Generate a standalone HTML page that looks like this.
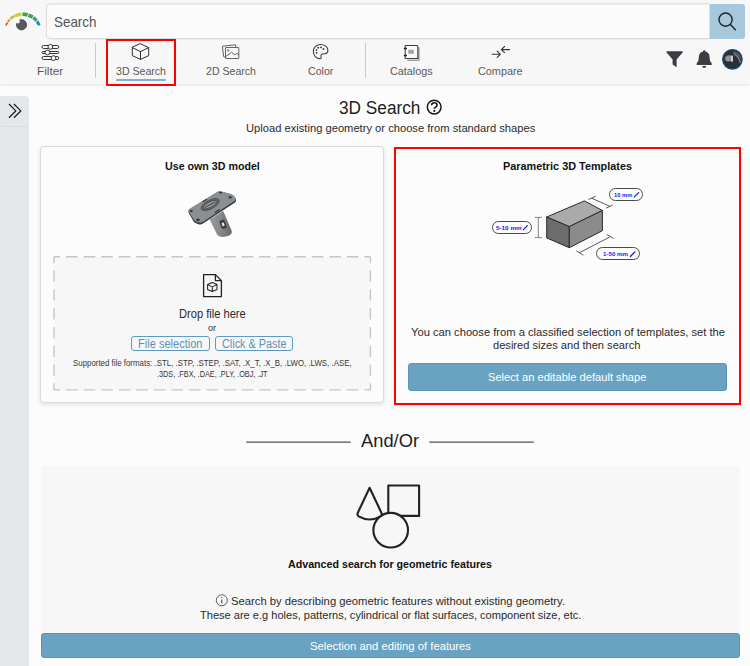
<!DOCTYPE html>
<html><head><meta charset="utf-8"><title>3D Search</title>
<style>
*{box-sizing:border-box;margin:0;padding:0}
html,body{width:750px;height:666px;overflow:hidden}
body{position:relative;background:#fcfcfc;font-family:"Liberation Sans",sans-serif}
.abs,.t{position:absolute}
.t{white-space:pre;transform-origin:0 0}
#topbar{left:0;top:0;width:750px;height:83.6px;background:#f7f7f7;box-shadow:0 1px 2.5px rgba(0,0,0,.11)}
#searchbtn{left:709px;top:4px;width:36.3px;height:34.6px;background:#a7c8dc;border-radius:0 3px 3px 0}
.vsep{width:1px;background:#c9c9c9;top:43px;height:35px}
#sel{left:106px;top:39px;width:70px;height:47px;border:2px solid #f00}
#uline{left:115.5px;top:78.6px;width:50px;height:2.8px;border-radius:2px;background:#7fb1d3}
#side{left:0;top:96px;width:28.5px;height:570px;background:#e5e8eb;border-radius:0 4px 0 0}
#sideline{left:1px;top:126px;width:26.5px;height:1px;background:#d9dcdf}
#card1{left:40px;top:146px;width:344px;height:257px;background:#fcfcfc;border:1px solid #dcdcdc;border-radius:4px;box-shadow:0 2px 4px rgba(0,0,0,.11)}
#dropz{left:54px;top:256.7px;width:316.4px;height:133.2px;background:#f7f7f7;border-radius:3px}
#card2{left:394px;top:147px;width:347px;height:258px;border:2px solid #f00;background:#fcfcfc;box-shadow:0 2px 3px rgba(0,0,0,.07)}
.obtn{height:15px;border:1px solid #5f9cc2;border-radius:3px}
.bbtn{background:#6aa3c2;border:1px solid #5c95b5;border-radius:3px}
.hline{height:1.3px;background:#555}
#panel{left:41px;top:466px;width:699px;height:191px;background:#f7f7f7}
.pill{height:12.7px;border:1px solid #4a4a4a;border-radius:6.4px;background:#fdfdfd}

</style></head>
<body>
<div class="abs" id="topbar"></div>
<div class="abs" id="searchbtn"></div>
<div class="abs vsep" style="left:95px"></div>
<div class="abs vsep" style="left:365px"></div>
<div class="abs" id="sel"></div>
<div class="abs" id="uline"></div>
<div class="abs" id="side"></div>
<div class="abs" id="sideline"></div>
<div class="abs" id="card1"></div>
<div class="abs" id="dropz"></div>
<div class="abs" id="card2"></div>
<div class="abs obtn" style="left:131px;top:336px;width:78.5px"></div>
<div class="abs obtn" style="left:215.2px;top:336px;width:78px"></div>
<div class="abs bbtn" style="left:408px;top:363.3px;width:319px;height:27.3px"></div>
<div class="abs" id="panel"></div>
<div class="abs bbtn" style="left:41px;top:633px;width:699px;height:24.5px"></div>
<div class="abs pill" style="left:609px;top:188.2px;width:33.7px"></div>
<div class="abs pill" style="left:491.9px;top:221.2px;width:40px"></div>
<div class="abs pill" style="left:596.2px;top:247.2px;width:43.5px"></div>
<svg class="abs" id="gfx" style="left:0;top:0" width="750" height="666" viewBox="0 0 750 666" fill="none">
<!-- search box -->
<path d="M709.5 3.9H50.4Q46.4 3.9 46.4 7.9V34.5Q46.4 38.5 50.4 38.5H709.5Z" fill="#fbfbfb"/>
<path d="M709.5 3.9H50.4Q46.4 3.9 46.4 7.9V34.5Q46.4 38.5 50.4 38.5H709.5" stroke="#dedede" stroke-width="1.1"/>
<path d="M50 39.3H709.5" stroke="#000" stroke-opacity="0.05" stroke-width="1"/>
<!-- logo -->
<path d="M5.31 25.25L5.49 24.74L5.67 24.23L5.88 23.73L6.10 23.24L6.33 22.75L6.58 22.27L8.13 23.09L7.85 23.50L7.58 23.92L7.33 24.35L7.09 24.79L6.86 25.23L6.64 25.68Z" fill="#e63a1e"/>
<path d="M7.06 21.42L7.34 20.96L7.64 20.51L7.95 20.07L8.28 19.63L8.61 19.21L8.96 18.80L10.64 20.25L10.28 20.58L9.94 20.92L9.60 21.27L9.28 21.63L8.96 22.00L8.65 22.38Z" fill="#ef8a27"/>
<path d="M9.62 18.08L10.20 17.51L10.80 16.96L11.42 16.44L12.07 15.95L12.73 15.49L13.42 15.06L14.89 17.50L14.26 17.80L13.64 18.12L13.03 18.47L12.44 18.85L11.86 19.26L11.29 19.69Z" fill="#b9c22b"/>
<path d="M13.98 14.73L15.09 14.17L16.23 13.67L17.41 13.26L18.61 12.93L19.82 12.67L21.06 12.50L21.44 16.18L20.44 16.23L19.43 16.30L18.41 16.44L17.40 16.65L16.39 16.94L15.40 17.29Z" fill="#cbd12f"/>
<path d="M22.35 12.41L23.32 12.40L24.30 12.45L25.27 12.54L26.23 12.68L27.18 12.88L28.13 13.12L27.11 16.68L26.35 16.48L25.59 16.33L24.82 16.21L24.04 16.14L23.26 16.10L22.48 16.11Z" fill="#43a03e"/>
<path d="M29.06 13.41L29.87 13.71L30.66 14.05L31.44 14.43L32.21 14.84L32.95 15.28L33.67 15.76L31.62 18.69L31.01 18.35L30.38 18.04L29.76 17.72L29.14 17.42L28.50 17.15L27.85 16.91Z" fill="#3f9c62"/>
<path d="M34.32 16.24L34.98 16.77L35.61 17.32L36.21 17.91L36.79 18.51L37.33 19.15L37.85 19.81L35.30 21.73L34.83 21.22L34.34 20.73L33.83 20.27L33.29 19.83L32.75 19.42L32.18 19.04Z" fill="#3fa078"/>
<path d="M38.33 20.46L38.79 21.17L39.22 21.89L39.61 22.63L39.97 23.39L40.30 24.16L40.59 24.94L37.92 25.86L37.62 25.22L37.30 24.58L36.95 23.97L36.57 23.38L36.17 22.80L35.74 22.25Z" fill="#2f83bd"/>
<circle cx="21.5" cy="24.8" r="5.1" fill="#565a5e" stroke="#3d4044" stroke-width="0.8"/>
<circle cx="17.6" cy="21.3" r="2.2" fill="#f7f7f7"/>
<!-- search magnifier -->
<g stroke="#1f2326" stroke-width="1.4" stroke-linecap="round"><circle cx="725.6" cy="19.6" r="6.6"/><path d="M730.4 24.6L735.4 29.8"/></g>
<!-- filter sliders icon -->
<g stroke="#33373a" stroke-width="1" fill="#f7f7f7">
<rect x="42" y="45.5" width="16.8" height="3" rx="1.5"/><circle cx="50.4" cy="46.9" r="2.4"/>
<rect x="42" y="51.5" width="16.8" height="2" rx="1"/><circle cx="47.4" cy="52.5" r="2.4"/>
<rect x="42" y="56.5" width="16.8" height="3" rx="1.5"/><circle cx="53.5" cy="58.1" r="2.4"/>
</g>
<!-- cube icon -->
<g stroke="#2c3033" stroke-width="1" stroke-linejoin="round" stroke-linecap="round">
<path d="M140.5 43.8L148.7 47.6V55.6L140.5 59.4L132.3 55.6V47.6Z"/><path d="M132.3 47.6L140.5 51.6L148.7 47.6M140.5 51.6V59.4"/>
</g>
<!-- 2D images icon -->
<g stroke="#565a5e" stroke-width="0.95" stroke-linejoin="round">
<path d="M222.4 46.2L235.6 44.8L235.9 47.4M222.4 46.2L223.6 56.6L225.5 57.4"/>
<rect x="225.5" y="47.5" width="13.3" height="11" rx="0.4"/>
<path d="M226 56.3L231.6 52.3L234.8 54.8L236.8 53.4L238.8 54.9"/><circle cx="228.2" cy="50.4" r="0.9" fill="#8a8e92" stroke="#777b7f" stroke-width="0.6"/>
</g>
<!-- palette icon -->
<g stroke="#3a3e42" stroke-width="1.05" stroke-linejoin="round">
<path d="M320.4 44.5C316.2 44.5 313.3 47.7 313.3 51.5C313.3 55.6 316.4 58.6 319.8 58.6C321.2 58.6 321.5 57.6 321.1 56.8C320.4 55.2 321.3 54.3 322.7 54.1L324.9 53.8C326.9 53.5 327.9 52.1 327.9 50.4C327.9 46.8 324.6 44.5 320.4 44.5Z"/>
</g>
<g fill="#1f2326"><circle cx="316.5" cy="52.8" r="0.85"/><circle cx="316.5" cy="50" r="0.85"/><circle cx="318.2" cy="47.7" r="0.85"/><circle cx="321" cy="47.3" r="0.85"/><circle cx="323.5" cy="48.9" r="0.85"/></g>
<!-- catalogs icon -->
<g stroke="#3a3e42" stroke-width="1.05" stroke-linejoin="round">
<path d="M407.2 60.2H418.9V47.2" stroke="#7d8185" stroke-width="1.1"/>
<path d="M405.2 45.4H416.8Q417.8 45.4 417.8 46.4V58.4H405.2Z" fill="#f9f9f9"/>
<path d="M403.9 48.6H406.9M403.9 55.4H406.9" stroke="#16191c" stroke-width="1.5"/>
</g>
<rect x="408.3" y="49.8" width="5.6" height="4" fill="#a2a5a8"/>
<!-- compare icon -->
<g stroke="#33373a" stroke-width="1.1" stroke-linecap="round" stroke-linejoin="round">
<path d="M492.2 54.3H500.2M497.2 51.2L500.3 54.3L497.2 57.4"/>
<path d="M501.4 49.6H509.6M504.5 46.5L501.4 49.6L504.5 52.7"/>
</g>
<!-- funnel -->
<path d="M666.6 51.2H682.6Q683.2 52 682.4 52.8L676.6 59.4V67.2L672.6 64.6V59.4L666.8 52.8Q666 52 666.6 51.2Z" fill="#3a3e42"/>
<!-- bell -->
<path d="M704.2 50.2Q705.4 50.2 705.4 51.4Q709.6 52.4 709.6 57.4Q709.6 61.6 711.6 63.2Q712.4 64.2 711.4 65H697Q696 64.2 696.8 63.2Q698.8 61.6 698.8 57.4Q698.8 52.4 703 51.4Q703 50.2 704.2 50.2Z" fill="#3a3e42"/>
<path d="M702.2 66H706.2Q706.2 68 704.2 68Q702.2 68 702.2 66Z" fill="#3a3e42"/>
<!-- avatar -->
<circle cx="732.4" cy="59.3" r="9.7" fill="#2c2f33" stroke="#14467c" stroke-width="1.4"/>
<path d="M725 57.5Q727 54.5 731 55.5L731.6 60.5Q728 62.5 725.4 60.5Z" fill="#8e949b"/>
<rect x="731.2" y="55.6" width="1.6" height="6" fill="#f2f2f2"/>
<path d="M733 51.2Q740.6 52.2 741.2 60Q738 54.4 733 53.2Z" fill="#5c6065"/>
<path d="M734 54Q738.5 56 740.5 63" stroke="#74797f" stroke-width="1.5"/>
<!-- sidebar chevrons -->
<g stroke="#1a1a1a" stroke-width="1.25" stroke-linejoin="miter">
<path d="M9 104L15.8 110.9L9 117.8"/><path d="M13.9 104L20.8 110.9L13.9 117.8"/>
</g>
<!-- help icon -->
<circle cx="434.2" cy="107.1" r="6.9" stroke="#141414" stroke-width="1.45"/>
<path d="M431.7 105.3Q431.6 102.8 434.3 102.8Q437 102.8 437 105Q437 106.4 435.6 107.1Q434.3 107.8 434.3 108.8" stroke="#141414" stroke-width="1.6"/>
<circle cx="434.3" cy="110.9" r="1.05" fill="#141414"/>
<!-- 3D part -->
<defs><linearGradient id="cyl" x1="0" y1="0" x2="1" y2="0"><stop offset="0" stop-color="#9a9da0"/><stop offset="0.5" stop-color="#85888b"/><stop offset="1" stop-color="#66696c"/></linearGradient></defs>
<g>
<path d="M209.6 219.5L223.2 211L231.6 230.6Q232.6 234.2 228.8 235.8Q223.2 238 218.4 236Q217.2 235.2 216.8 234Z" fill="url(#cyl)"/>
<rect x="220.4" y="219.8" width="5.4" height="9" rx="1.8" transform="rotate(-22 223.1 224.3)" fill="#3b3d40"/>
<rect x="222" y="222.6" width="2.2" height="3.6" rx="0.6" transform="rotate(-22 223.1 224.3)" fill="#e8e9ea"/>
<path d="M189.4 209.4Q187.8 210.4 188.4 212.2L193.6 221.4Q194.6 223 196.6 223.6L199.2 224.4Q201 224.8 202.6 223.8L235 202.4Q236.6 201.2 236 199.6L235.4 198Q234 195.4 231.4 194.4L220.6 191.6Q218.8 191.2 217.2 192.2Z" fill="#3a3c3e"/>
<path d="M189.6 208.8Q188 209.8 188.8 211.4L193.8 219.8Q194.8 221.4 196.8 222L199.4 222.6Q201.2 223 202.8 222L234.8 200.8Q236.4 199.6 235.6 198.2Q234 195 231.4 194L220.8 191.2Q219 190.8 217.4 191.8Z" fill="#8c8f92"/>
<ellipse cx="210.2" cy="204.6" rx="10" ry="4.3" transform="rotate(-28 210.2 204.6)" fill="#66696c" stroke="#4a4c4f" stroke-width="0.8"/>
<ellipse cx="210.2" cy="204.6" rx="7.6" ry="2.7" transform="rotate(-28 210.2 204.6)" fill="#96999c" stroke="#44464a" stroke-width="0.8"/>
<path d="M204.8 207.6L215.6 201.8" stroke="#3a3c3e" stroke-width="1"/>
<g fill="#2e3032"><ellipse cx="191.2" cy="211" rx="1.6" ry="1.1"/><ellipse cx="198" cy="219.8" rx="1.7" ry="1.2"/><ellipse cx="230.2" cy="197.4" rx="1.7" ry="1.1"/><ellipse cx="220.6" cy="192.6" rx="1.6" ry="0.9"/><path d="M202.4 201.2L206.8 198.8L207.4 199.6L203 202.2Z"/><path d="M214.6 212L219.4 209L220 210L215.2 213Z"/></g>
</g>
<!-- drop zone dashes -->
<g stroke="#c6c6c6" stroke-width="1.4">
<path d="M54 256.7H370.4M54 389.9H370.4" stroke-dasharray="11.6 5.95" stroke-dashoffset="5.45"/>
<path d="M54 256.7V389.9M370.4 256.7V389.9" stroke-dasharray="11.3 7.5" stroke-dashoffset="5"/>
</g>
<!-- file icon -->
<g stroke="#1f2326" stroke-width="1.3" stroke-linejoin="round">
<path d="M203.6 274.6H215.4L221.4 280.6V296.6H203.6Z" fill="#f6f6f6"/><path d="M215.4 274.6V280.6H221.4"/>
<path d="M212.3 282.4L217 284.6V289.4L212.3 291.6L207.6 289.4V284.6Z M207.6 284.6L212.3 286.9L217 284.6M212.3 286.9V291.6" stroke-width="1.05"/>
</g>
<!-- parametric box -->
<g stroke="#2a2a2a" stroke-width="1" stroke-linejoin="round">
<path d="M546.7 217L584.4 200.9L602.4 210.5L569.3 226.6Z" fill="#aaaaaa"/>
<path d="M546.7 217L569.3 226.6V247.7L546.7 237.9Z" fill="#6c6c6c"/>
<path d="M569.3 226.6L602.4 210.5V230.7L569.3 247.7Z" fill="#8b8b8b"/>
</g>
<g stroke="#4a4a4a" stroke-width="0.9">
<path d="M538.3 217.4V237.6M534.7 217.4H541.9M534.7 237.6H541.9" stroke="#777"/>
<path d="M591.6 198.2L610 206.4M588.4 199.6L595.8 196.2M606 208.2L612.8 205"/>
<path d="M579.6 252.6L609.8 237M576.2 250.8L583.4 255.2M606.8 234.4L613.8 238.6"/>
</g>
<!-- pencils -->
<g stroke="#1a1af0" stroke-width="1.3" stroke-linecap="round">
<path d="M634.6 196.6L638.6 192.6"/><path d="M523.6 229.4L527.4 225.6"/><path d="M630.6 256.2L634.8 252"/>
</g>
<g fill="#1a1af0"><path d="M633.8 197.6L634 196L635.4 197.3Z"/><path d="M522.8 230.4L523 228.8L524.4 230.1Z"/><path d="M629.8 257.2L630 255.6L631.4 256.9Z"/></g>
<!-- shapes icon -->
<g stroke="#1f2326" stroke-width="2.1" stroke-linejoin="round">
<rect x="388.3" y="485.5" width="30.8" height="30.4"/>
<path d="M369.6 487.8L357.6 513.2Q357 515.2 358.6 516.4Q369.6 522.6 380.6 516.4Q382.2 515.2 381.6 513.2Z"/>
<circle cx="390.7" cy="530.2" r="17.3" fill="#f7f7f7"/>
</g>
<!-- info icon -->
<circle cx="221.8" cy="600.3" r="5.5" stroke="#4a4a4a" stroke-width="0.9"/>
<path d="M221.8 599.4V603.2" stroke="#4a4a4a" stroke-width="1.1"/><circle cx="221.8" cy="597.6" r="0.7" fill="#4a4a4a"/>
<!-- andor lines -->
<path d="M246.2 442.1H350.8M429.2 442.1H533.8" stroke="#505050" stroke-width="1.15"/>
</svg>

<!-- text labels -->
<div class="t" id="ph" style="left:54.0px;top:14.17px;font-size:14.4px;line-height:17.28px;font-weight:400;color:#505458;transform:scaleX(0.9318)">Search</div>
<div class="t" id="l1" style="left:36.8px;top:65.10px;font-size:11.3px;line-height:13.56px;font-weight:400;color:#5a5a5a;transform:scaleX(1.0434)">Filter</div>
<div class="t" id="l2" style="left:115.5px;top:65.10px;font-size:11.3px;line-height:13.56px;font-weight:400;color:#5a5a5a;transform:scaleX(0.9368)">3D Search</div>
<div class="t" id="l3" style="left:205.5px;top:65.10px;font-size:11.3px;line-height:13.56px;font-weight:400;color:#5a5a5a;transform:scaleX(0.9368)">2D Search</div>
<div class="t" id="l4" style="left:307.7px;top:65.10px;font-size:11.3px;line-height:13.56px;font-weight:400;color:#5a5a5a;transform:scaleX(0.9370)">Color</div>
<div class="t" id="l5" style="left:389.6px;top:65.10px;font-size:11.3px;line-height:13.56px;font-weight:400;color:#5a5a5a;transform:scaleX(0.9553)">Catalogs</div>
<div class="t" id="l6" style="left:478.2px;top:65.10px;font-size:11.3px;line-height:13.56px;font-weight:400;color:#5a5a5a;transform:scaleX(0.9598)">Compare</div>
<div class="t" id="h1" style="left:338.8px;top:97.94px;font-size:17.6px;line-height:21.12px;font-weight:400;color:#1c1c1c;transform:scaleX(0.9792)">3D Search</div>
<div class="t" id="sub" style="left:246.2px;top:122.40px;font-size:11.3px;line-height:13.56px;font-weight:400;color:#2a2a2a;transform:scaleX(0.9886)">Upload existing geometry or choose from standard shapes</div>
<div class="t" id="c1t" style="left:164.7px;top:159.22px;font-size:11.6px;line-height:13.92px;font-weight:700;color:#111;transform:scaleX(0.9197)">Use own 3D model</div>
<div class="t" id="c2t" style="left:503.3px;top:159.22px;font-size:11.6px;line-height:13.92px;font-weight:700;color:#111;transform:scaleX(0.9369)">Parametric 3D Templates</div>
<div class="t" id="drop" style="left:178.8px;top:305.99px;font-size:12.9px;line-height:15.48px;font-weight:400;color:#2a2a2a;transform:scaleX(0.8619)">Drop file here</div>
<div class="t" id="or" style="left:208.0px;top:321.61px;font-size:9.6px;line-height:11.52px;font-weight:400;color:#333;transform:scaleX(0.9377)">or</div>
<div class="t" id="b1" style="left:138.0px;top:337.14px;font-size:12.0px;line-height:14.4px;font-weight:400;color:#5b91b4;transform:scaleX(0.9210)">File selection</div>
<div class="t" id="b2" style="left:222.0px;top:337.14px;font-size:12.0px;line-height:14.4px;font-weight:400;color:#5b91b4;transform:scaleX(0.9039)">Click &amp; Paste</div>
<div class="t" id="f1" style="left:73.0px;top:358.08px;font-size:9.0px;line-height:10.8px;font-weight:400;color:#383838;transform:scaleX(0.8753)">Supported file formats: .STL, .STP, .STEP, .SAT, .X_T, .X_B, .LWO, .LWS, .ASE,</div>
<div class="t" id="f2" style="left:156.7px;top:368.98px;font-size:9.0px;line-height:10.8px;font-weight:400;color:#383838;transform:scaleX(0.8119)">.3DS, .FBX, .DAE, .PLY, .OBJ, .JT</div>
<div class="t" id="p1" style="left:410.6px;top:325.50px;font-size:11.3px;line-height:13.56px;font-weight:400;color:#2a2a2a;transform:scaleX(0.9895)">You can choose from a classified selection of templates, set the</div>
<div class="t" id="p2" style="left:493.2px;top:338.90px;font-size:11.3px;line-height:13.56px;font-weight:400;color:#2a2a2a;transform:scaleX(0.9821)">desired sizes and then search</div>
<div class="t" id="bt1" style="left:488.4px;top:369.62px;font-size:11.6px;line-height:13.92px;font-weight:400;color:#fff;transform:scaleX(0.9599)">Select an editable default shape</div>
<div class="t" id="andor" style="left:361.0px;top:431.24px;font-size:17.6px;line-height:21.12px;font-weight:400;color:#1c1c1c;transform:scaleX(1.0404)">And/Or</div>
<div class="t" id="adv" style="left:288.0px;top:556.92px;font-size:11.6px;line-height:13.92px;font-weight:700;color:#111;transform:scaleX(0.9203)">Advanced search for geometric features</div>
<div class="t" id="i1" style="left:231.0px;top:595.00px;font-size:11.3px;line-height:13.56px;font-weight:400;color:#2a2a2a;transform:scaleX(0.9967)">Search by describing geometric features without existing geometry.</div>
<div class="t" id="i2" style="left:199.6px;top:609.10px;font-size:11.3px;line-height:13.56px;font-weight:400;color:#2a2a2a;transform:scaleX(0.9781)">These are e.g holes, patterns, cylindrical or flat surfaces, component size, etc.</div>
<div class="t" id="bt2" style="left:310.0px;top:639.02px;font-size:11.6px;line-height:13.92px;font-weight:400;color:#fff;transform:scaleX(0.9719)">Selection and editing of features</div>
<div class="t" id="pl1" style="left:614.0px;top:191.23px;font-size:6.1px;line-height:7.32px;font-weight:700;color:#1a1af0;transform:scaleX(0.9476)">10 mm</div>
<div class="t" id="pl2" style="left:495.8px;top:224.23px;font-size:6.1px;line-height:7.32px;font-weight:700;color:#1a1af0;transform:scaleX(1.0350)">5-10 mm</div>
<div class="t" id="pl3" style="left:603.0px;top:250.23px;font-size:6.1px;line-height:7.32px;font-weight:700;color:#1a1af0;transform:scaleX(1.0107)">1-50 mm</div>
</body></html>
